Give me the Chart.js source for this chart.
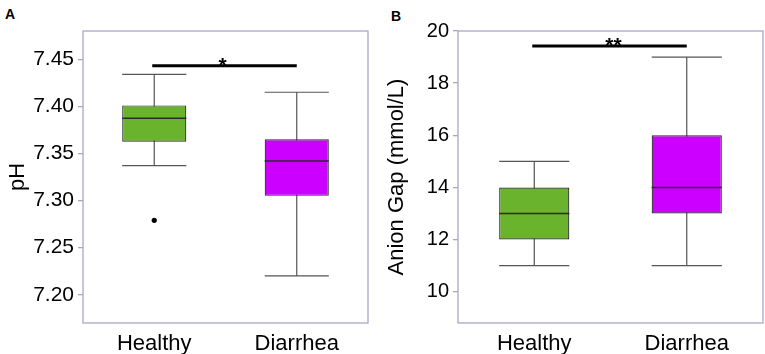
<!DOCTYPE html>
<html>
<head>
<meta charset="utf-8">
<script src="https://cdn.jsdelivr.net/npm/chart.js@4.4.0/dist/chart.umd.min.js"></script>
<style>
  body { margin: 0; background: #fff; width: 765px; height: 354px; position: relative; overflow: hidden; font-family: 'Liberation Sans', Arial, sans-serif; }
  .panel { position: absolute; top: 0; height: 354px; width: 380px; }
  .tag { position: absolute; font-weight: bold; font-size: 14px; line-height: 14px; color: #000; }
</style>
</head>
<body>
<div class="tag" style="left:5px;top:7px">A</div>
<div class="tag" style="left:391px;top:9px">B</div>
<div class="panel" style="left:0"><canvas id="phChart" width="380" height="354"></canvas></div>
<div class="panel" style="left:385px"><canvas id="agChart" width="380" height="354"></canvas></div>
<script>
// categories
const groups = ['Healthy', 'Diarrhea'];
const boxColors = ['#6ab42d', '#cc00ff'];

// panel A - pH
const phLow = [7.337, 7.220];
const phQ1 = [7.3625, 7.305];
const phMedian = [7.3875, 7.342];
const phQ3 = [7.401, 7.365];
const phHigh = [7.434, 7.415];
const phOutliers = [[7.279], []];
const phTicks = [7.20, 7.25, 7.30, 7.35, 7.40, 7.45];
const phSigLevel = 7.443;
const phSigLabel = '*';

// panel B - anion gap
const agLow = [11, 11];
const agQ1 = [12, 13];
const agMedian = [13, 14];
const agQ3 = [14, 16];
const agHigh = [15, 19];
const agOutliers = [[], []];
const agTicks = [10, 12, 14, 16, 18, 20];
const agSigLevel = 19.42;
const agSigLabel = '**';

Chart.defaults.font.family = "'Liberation Sans', Arial, sans-serif";
Chart.defaults.color = '#000';

const axisColor = '#aba5c5';

// whiskers, medians, outliers, significance bar, frame
const boxExtras = {
    id: 'boxExtras',
    beforeDatasetsDraw(chart, args, opts) {
        const { ctx, chartArea, scales: { x, y } } = chart;
        const meta = chart.getDatasetMeta(0);
        ctx.save();
        // frame
        ctx.strokeStyle = axisColor;
        ctx.lineWidth = 1.3;
        ctx.strokeRect(chartArea.left, chartArea.top, chartArea.right - chartArea.left, chartArea.bottom - chartArea.top);
        // whiskers
        ctx.strokeStyle = '#555';
        ctx.lineWidth = 1.2;
        opts.low.forEach((lo, i) => {
            const cx = x.getPixelForValue(i);
            const half = meta.data[i].getProps(['width'], true).width / 2;
            const yl = y.getPixelForValue(lo);
            const yh = y.getPixelForValue(opts.high[i]);
            ctx.beginPath();
            ctx.moveTo(cx, yl); ctx.lineTo(cx, yh);
            ctx.moveTo(cx - half, yl); ctx.lineTo(cx + half, yl);
            ctx.moveTo(cx - half, yh); ctx.lineTo(cx + half, yh);
            ctx.stroke();
        });
        ctx.restore();
    },
    afterDatasetsDraw(chart, args, opts) {
        const { ctx, scales: { x, y } } = chart;
        const meta = chart.getDatasetMeta(0);
        ctx.save();
        // medians
        ctx.strokeStyle = '#2a2a2a';
        ctx.lineWidth = 1.5;
        opts.median.forEach((m, i) => {
            const cx = x.getPixelForValue(i);
            const half = meta.data[i].getProps(['width'], true).width / 2;
            const ym = y.getPixelForValue(m);
            ctx.beginPath();
            ctx.moveTo(cx - half, ym); ctx.lineTo(cx + half, ym);
            ctx.stroke();
        });
        // outliers
        ctx.fillStyle = '#000';
        opts.outliers.forEach((list, i) => {
            list.forEach(v => {
                ctx.beginPath();
                ctx.arc(x.getPixelForValue(i), y.getPixelForValue(v), 2.6, 0, Math.PI * 2);
                ctx.fill();
            });
        });
        // significance bar
        const x0 = x.getPixelForValue(0) - 2;
        const x1 = x.getPixelForValue(1);
        const ys = y.getPixelForValue(opts.sigLevel);
        ctx.strokeStyle = '#000';
        ctx.lineWidth = 3;
        ctx.beginPath();
        ctx.moveTo(x0, ys); ctx.lineTo(x1, ys);
        ctx.stroke();
        ctx.font = "bold 21px 'Liberation Sans', Arial, sans-serif";
        ctx.textAlign = 'center';
        ctx.textBaseline = 'alphabetic';
        ctx.fillText(opts.sigLabel, (x0 + x1) / 2 + opts.labelShift, ys + 6);
        ctx.restore();
    }
};

function makeBoxChart(id, s) {
    const ctx = document.getElementById(id).getContext('2d');
    return new Chart(ctx, {
        type: 'bar',
        data: {
            labels: groups,
            datasets: [{
                data: s.q1.map((q, i) => [q, s.q3[i]]),
                backgroundColor: boxColors,
                borderColor: '#2a2a2a',
                borderWidth: 1.2,
                borderSkipped: false,
                categoryPercentage: 1,
                barPercentage: s.barPct
            }]
        },
        options: {
            responsive: false,
            animation: false,
            layout: { padding: { top: 31, right: s.padRight, left: 0, bottom: 0 } },
            plugins: {
                legend: { display: false },
                tooltip: { enabled: false },
                boxExtras: {
                    low: s.low, high: s.high, median: s.median, outliers: s.outliers,
                    sigLevel: s.sigLevel, sigLabel: s.sigLabel, labelShift: s.labelShift
                }
            },
            scales: {
                x: {
                    grid: { display: false },
                    border: { display: false },
                    ticks: { font: { size: 22 }, padding: 0, color: '#000' },
                    afterFit: (axis) => { axis.height = 31; }
                },
                y: {
                    min: s.min,
                    max: s.max,
                    afterBuildTicks: (axis) => { axis.ticks = s.ticks.map(v => ({ value: v })); },
                    afterFit: (axis) => { axis.width = s.axisWidth; },
                    grid: { drawOnChartArea: false, tickLength: 5, color: axisColor, lineWidth: 1.3 },
                    border: { display: false },
                    ticks: {
                        font: { size: s.tickSize },
                        padding: 4,
                        color: '#000',
                        callback: (v) => s.fmt(v)
                    },
                    title: {
                        display: true,
                        text: s.title,
                        font: { size: 22, lineHeight: 1 },
                        padding: { top: s.titlePad, bottom: 0 },
                        color: '#000'
                    }
                }
            }
        },
        plugins: [boxExtras]
    });
}

makeBoxChart('phChart', {
    low: phLow, q1: phQ1, median: phMedian, q3: phQ3, high: phHigh, outliers: phOutliers,
    ticks: phTicks, min: 7.17, max: 7.48, fmt: v => Number(v).toFixed(2), tickSize: 21,
    title: 'pH', titlePad: 6.5, axisWidth: 83, padRight: 12, barPct: 0.45,
    sigLevel: phSigLevel, sigLabel: phSigLabel, labelShift: -2
});

makeBoxChart('agChart', {
    low: agLow, q1: agQ1, median: agMedian, q3: agQ3, high: agHigh, outliers: agOutliers,
    ticks: agTicks, min: 8.8, max: 20, fmt: v => String(v), tickSize: 20,
    title: 'Anion Gap (mmol/L)', titlePad: 1, axisWidth: 73, padRight: 2, barPct: 0.46,
    sigLevel: agSigLevel, sigLabel: agSigLabel, labelShift: 4
});
</script>
</body>
</html>
